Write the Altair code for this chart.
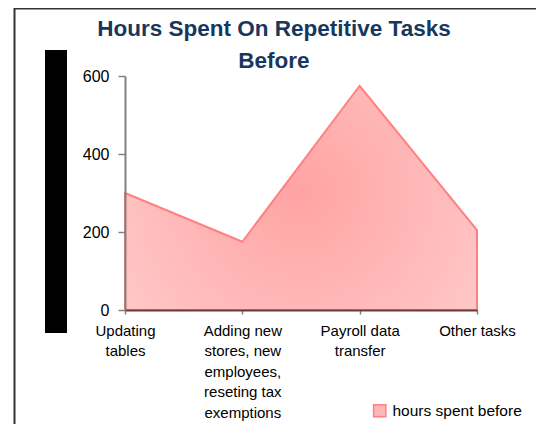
import altair as alt
import pandas as pd

# ---- data ----
categories = [
    "Updating\ntables",
    "Adding new\nstores, new\nemployees,\nreseting tax\nexemptions",
    "Payroll data\ntransfer",
    "Other tasks",
]
hours_before = [300, 175, 575, 205]
series_name = "hours spent before"
y_ticks = [0, 200, 400, 600]
title_lines = ["Hours Spent On Repetitive Tasks", "Before"]

df = pd.DataFrame({"task": categories, "hours": hours_before, "series": series_name})
one = pd.DataFrame({"a": [0]})

FONT = "Liberation Sans"
TITLE_COLOR = "#17375E"

fill_grad = alt.RadialGradient(
    gradient="radial",
    stops=[
        alt.GradientStop(color="#FFA3A3", offset=0),
        alt.GradientStop(color="#FFD0D0", offset=1),
    ],
    x1=0.5, y1=0.48, r1=0,
    x2=0.5, y2=0.48, r2=0.75,
)

x_enc = alt.X(
    "task:N",
    sort=categories,
    scale=alt.Scale(type="point", padding=0),
    axis=alt.Axis(
        title=None,
        labelAngle=0,
        labelExpr="split(datum.label, '\\n')",
        labelFontSize=15,
        labelLineHeight=20.5,
        labelColor="#000000",
        labelFont=FONT,
        labelPadding=9,
        labelBaseline="top",
        tickSize=4,
        tickColor="#808080",
        tickWidth=1.5,
        domainColor="#6E3A3A",
        domainWidth=2,
        zindex=1,
        labelOverlap=False,
    ),
)
y_enc = alt.Y(
    "hours:Q",
    scale=alt.Scale(domain=[0, 600], nice=False),
    axis=alt.Axis(
        title=None,
        values=y_ticks,
        grid=False,
        labelFontSize=16,
        labelColor="#000000",
        labelFont=FONT,
        labelPadding=9,
        tickSize=7,
        tickColor="#808080",
        tickWidth=1.5,
        domainColor="#808080",
        domainWidth=2,
        zindex=1,
    ),
)

area = alt.Chart(df).mark_area(
    fill=fill_grad, stroke="#FF8080", strokeWidth=2, strokeJoin="miter"
).encode(x=x_enc, y=y_enc)

legend_layer = alt.Chart(df).mark_square(opacity=0).encode(
    x=alt.X("task:N", sort=categories),
    y=alt.Y("hours:Q"),
    color=alt.Color(
        "series:N",
        scale=alt.Scale(range=["#FFB6B6"]),
        legend=alt.Legend(
            title=None,
            orient="none",
            legendX=247,
            legendY=327,
            padding=0,
            symbolType="square",
            symbolSize=150,
            symbolOpacity=1,
            symbolFillColor="#FFB6B6",
            symbolStrokeColor="#FF8080",
            symbolStrokeWidth=1.5,
            labelFontSize=15.5,
            labelFont=FONT,
            labelColor="#000000",
            labelOffset=5,
        ),
    ),
)

title1 = alt.Chart(one).mark_text(
    text=title_lines[0], font=FONT, fontSize=22.5, fontWeight="bold",
    color=TITLE_COLOR, align="center", baseline="alphabetic",
).encode(x=alt.value(149), y=alt.value(-40))
title2 = alt.Chart(one).mark_text(
    text=title_lines[1], font=FONT, fontSize=22.5, fontWeight="bold",
    color=TITLE_COLOR, align="center", baseline="alphabetic",
).encode(x=alt.value(149), y=alt.value(-8))

border_top = alt.Chart(one).mark_rule(color="#333333", strokeWidth=2).encode(
    x=alt.value(-111), x2=alt.value(420), y=alt.value(-67.5)
)
border_left = alt.Chart(one).mark_rule(color="#333333", strokeWidth=2).encode(
    x=alt.value(-110.5), y=alt.value(-68), y2=alt.value(360)
)
black_box = alt.Chart(one).mark_rect(color="#000000").encode(
    x=alt.value(-80), x2=alt.value(-58), y=alt.value(-26), y2=alt.value(257)
)

chart = alt.layer(
    area, legend_layer, title1, title2, border_top, border_left, black_box
).properties(
    width=352,
    height=234,
    background="white",
    autosize=alt.AutoSizeParams(type="none"),
    padding={"left": 117, "top": 68, "right": 59, "bottom": 114},
).configure_view(strokeWidth=0, stroke="transparent")

chart.save("out.html", embed_options={"renderer": "svg", "actions": False})
